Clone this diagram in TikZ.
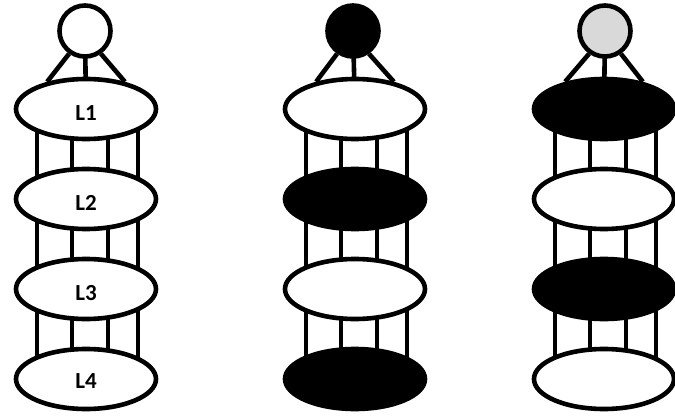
\documentclass[tikz,border=0pt]{standalone}
\usepackage{fontspec}
\setmainfont{Carlito}
\usetikzlibrary{shapes.geometric}
\pgfdeclarelayer{bg}
\pgfsetlayers{bg,main}
\definecolor{lightgraytop}{RGB}{217,217,217}
\tikzset{
  layernode/.style={ellipse, draw=black, line width=4.6pt, minimum width=140pt, minimum height=60pt, inner sep=0pt},
  wl/.style={layernode, fill=white},
  bl/.style={layernode, fill=black},
  lbl/.style={inner sep=0pt, font=\fontsize{23}{25}\selectfont\bfseries},
  topnode/.style={circle, draw=black, line width=4.6pt, minimum size=51pt, inner sep=0pt},
  wire/.style={line width=4.6pt, draw=black}
}
\begin{document}
\begin{tikzpicture}[x=1pt,y=-1pt]
\useasboundingbox (0,0) rectangle (675,417);
% column 1
\node[topnode, fill=white] (a0) at (85,31) {};
\node[wl] (a1) at (86,109) {};
\node[wl] (a2) at (86,199) {};
\node[wl] (a3) at (86,289) {};
\node[wl] (a4) at (86,379) {};
\node[lbl] (t1) at ([yshift=-4pt]a1.center) {L1};
\node[lbl] (t2) at ([yshift=-4pt]a2.center) {L2};
\node[lbl] (t3) at ([yshift=-4pt]a3.center) {L3};
\node[lbl] (t4) at ([yshift=-2pt]a4.center) {L4};
% column 2
\node[topnode, fill=black] (b0) at (353,31) {};
\node[wl] (b1) at (355,109) {};
\node[bl] (b2) at (355,199) {};
\node[wl] (b3) at (355,289) {};
\node[bl] (b4) at (355,379) {};
% column 3
\node[topnode, fill=lightgraytop] (c0) at (605,31) {};
\node[bl] (c1) at (604,109) {};
\node[wl] (c2) at (604,199) {};
\node[bl] (c3) at (604,289) {};
\node[wl] (c4) at (604,379) {};
\begin{pgfonlayer}{bg}
\foreach \c in {a,b,c} {
  \draw[wire] (\c0.-125) -- (\c1.145);
  \draw[wire] (\c0.center) -- (\c1.center);
  \draw[wire] (\c0.-55) -- (\c1.35);
  \foreach \i/\j in {1/2,2/3,3/4} {
    \foreach \d in {-49,-14,22,52} {
      \draw[wire] ([xshift=\d pt]\c\i.center) -- ([xshift=\d pt]\c\j.center);
    }
  }
}
\end{pgfonlayer}
\end{tikzpicture}
\end{document}
